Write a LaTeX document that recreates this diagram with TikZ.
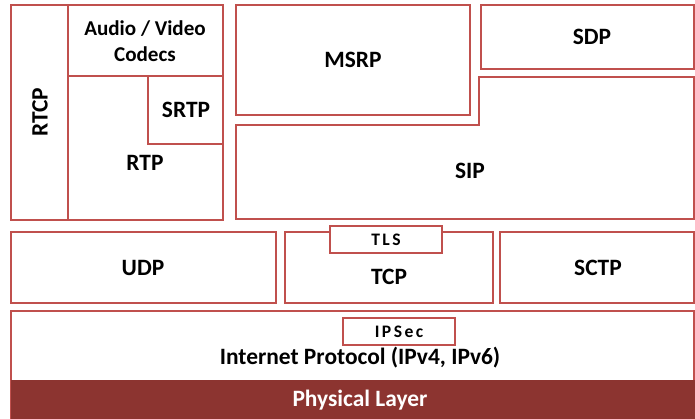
\documentclass[tikz,border=0pt]{standalone}
\usepackage{fontspec}
\setmainfont{Carlito}
\usetikzlibrary{fit}
\definecolor{boxred}{RGB}{192,80,77}
\definecolor{phyred}{RGB}{140,52,48}
\tikzset{
  layer/.style={draw=boxred, line width=2.2pt, inner sep=0pt},
  lbl/.style={font=\bfseries\fontsize{20}{23}\selectfont, align=center},
  sublayer/.style={layer, fill=white},
  sublbl/.style={font=\bfseries\fontsize{15}{17}\selectfont\addfontfeature{LetterSpace=14}}
}
\begin{document}
\begin{tikzpicture}[x=0.03cm, y=-0.03cm]
        \useasboundingbox (0,0) rectangle (695,419);

        % media and signalling
        \node[layer, fit={(11,5) (68,220)}] (rtcp) {};
        \node[lbl, rotate=90] (rtcplbl) at (40,112) {RTCP};
        \node[layer, fit={(68,5) (223,76)}] (codecs) {};
        \node[lbl, font=\bfseries\fontsize{18}{22}\selectfont] (codecslbl) at (145,41) {Audio / Video\\Codecs};
        \node[layer, fit={(68,76) (223,220)}] (rtp) {};
        \node[lbl] (rtplbl) at (145,163) {RTP};
        \node[layer, fit={(148,76) (223,144)}] (srtp) {};
        \node[lbl] (srtplbl) at (186,110) {SRTP};
        \node[layer, fit={(236,5) (470,115)}] (msrp) {};
        \node[lbl] (msrplbl) at (353,60) {MSRP};
        \node[layer, fit={(481,5) (694,69)}] (sdp) {};
        \node[lbl] (sdplbl) at (592,37) {SDP};
        \path[draw=boxred, line width=2.2pt] (236,125) -- (479,125) -- (479,77) -- (694,77) -- (694,219) -- (236,219) -- cycle;
        \node[lbl] (sip) at (470,171) {SIP};

        % transport
        \node[layer, fit={(11,232) (276,303)}] (udp) {};
        \node[lbl] (udplbl) at (143,268) {UDP};
        \node[layer, fit={(285,232) (493,303)}] (tcp) {};
        \node[lbl] (tcplbl) at (389,277) {TCP};
        \node[sublayer, fit={(330,226) (442,253)}] (tls) {};
        \node[sublbl] (tlslbl) at (386,240) {TLS};
        \node[layer, fit={(500,232) (694,303)}] (sctp) {};
        \node[lbl] (sctplbl) at (598,268) {SCTP};

        % network and physical
        \node[layer, fit={(11,311) (694,418)}] (ip) {};
        \path[fill=phyred] (11,380) rectangle (695,419);
        \node[sublayer, fit={(343,318) (455,345)}] (ipsec) {};
        \node[sublbl] (ipseclbl) at (399,332) {IPSec};
        \node[lbl] (iplbl) at (360,358) {Internet Protocol (IPv4, IPv6)};
        \node[lbl, text=white] (phy) at (360,400) {Physical Layer};
    \end{tikzpicture}
\end{document}
